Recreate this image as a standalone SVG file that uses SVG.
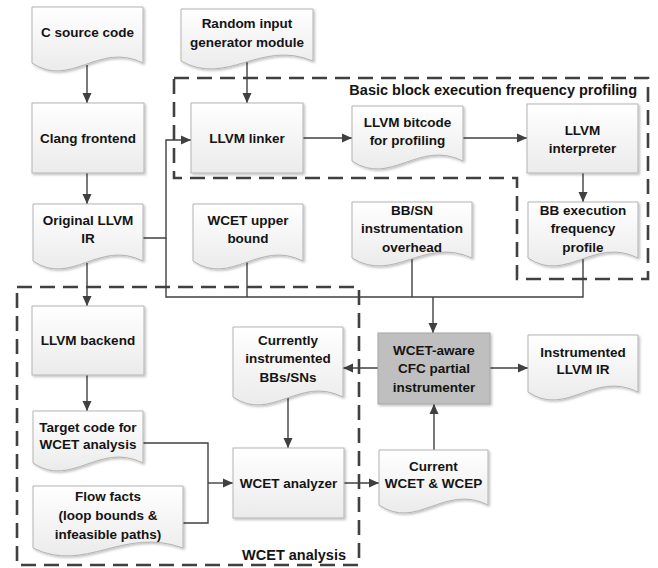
<svg xmlns="http://www.w3.org/2000/svg" width="658" height="568" viewBox="0 0 658 568">
<defs>
<linearGradient id="g" x1="0" y1="0" x2="0" y2="1">
<stop offset="0" stop-color="#ffffff"/>
<stop offset="1" stop-color="#ebebeb"/>
</linearGradient>
<filter id="sh" x="-10%" y="-10%" width="130%" height="130%">
<feDropShadow dx="1.5" dy="1.5" stdDeviation="1" flood-color="#000" flood-opacity="0.25"/>
</filter>
<marker id="ah" viewBox="0 0 10 10" refX="10" refY="5" markerWidth="10" markerHeight="10" markerUnits="userSpaceOnUse" orient="auto">
<path d="M0,0.5 L10,5 L0,9.5 Z" fill="#404040"/>
</marker>
</defs>
<style>
.n{fill:url(#g);stroke:#b3b3b3;stroke-width:1;filter:url(#sh)}
.dk{fill:#bfbfbf;stroke:#a6a6a6;stroke-width:1;filter:url(#sh)}
.c{fill:none;stroke:#404040;stroke-width:1.4}
.a{marker-end:url(#ah)}
.d{fill:none;stroke:#404040;stroke-width:2.6;stroke-dasharray:15 8}
text{font-family:"Liberation Sans",Arial,sans-serif;font-weight:bold;font-size:13.5px;fill:#141414;text-anchor:middle}
.r{text-anchor:end;font-size:14.5px}
</style>
<g id="groups">
<path class="d" d="M174,78 H648 V279 H517 V178 H174 Z"/>
<text class="r" x="637" y="95">Basic block execution frequency profiling</text>
<rect class="d" x="17" y="287" width="342" height="278"/>
<text class="r" x="346" y="560">WCET analysis</text>
</g>
<g id="connectors">
<path class="c a" d="M87,65 V103"/>
<path class="c a" d="M87,173 V204"/>
<path class="c a" d="M87,263 V306"/>
<path class="c a" d="M87,375 V411"/>
<path class="c a" d="M247,62 V103"/>
<path class="c a" d="M143,238 H166 V140 H191"/>
<path class="c" d="M166,238 V297 H583 V259"/>
<path class="c" d="M247,262 V297"/>
<path class="c" d="M412,259 V297"/>
<path class="c a" d="M433,297 V333"/>
<path class="c a" d="M303,138 H352"/>
<path class="c a" d="M463,138 H527"/>
<path class="c a" d="M583,173 V202"/>
<path class="c a" d="M490,368 H528"/>
<path class="c a" d="M378,368 H343"/>
<path class="c a" d="M288,398 V448"/>
<path class="c" d="M143,443 H208 V523 H183"/>
<path class="c a" d="M208,483 H233"/>
<path class="c a" d="M344,483 H379"/>
<path class="c a" d="M434,450 V404"/>
</g>
<g id="c-source">
<path class="n" d="M32,7 H143 V63 C98.6,41 70.85,89 32,63 Z"/>
<text x="87.5" y="37">C source code</text>
</g>
<g id="random-input">
<path class="n" d="M181,9 H313 V61 C260.2,39 227.2,87 181,61 Z"/>
<text x="247" y="28">Random input</text>
<text x="247" y="47">generator module</text>
</g>
<g id="clang">
<rect class="n" x="32" y="103" width="112" height="70"/>
<text x="88" y="142.5">Clang frontend</text>
</g>
<g id="linker">
<rect class="n" x="191" y="103" width="112" height="70"/>
<text x="247" y="142.5">LLVM linker</text>
</g>
<g id="bitcode">
<path class="n" d="M352,106 H463 V161 C418.6,139 390.85,187 352,161 Z"/>
<text x="407.5" y="126.5">LLVM bitcode</text>
<text x="407.5" y="144.5">for profiling</text>
</g>
<g id="interpreter">
<rect class="n" x="527" y="104" width="111" height="69"/>
<text x="582.5" y="134.5">LLVM</text>
<text x="582.5" y="152.5">interpreter</text>
</g>
<g id="bb-profile">
<path class="n" d="M528,202 H638 V258 C594,236 566.5,284 528,258 Z"/>
<text x="583" y="214.5">BB execution</text>
<text x="583" y="232.5">frequency</text>
<text x="583" y="251.5">profile</text>
</g>
<g id="bbsn-overhead">
<path class="n" d="M352,202 H472 V258 C424,236 394,284 352,258 Z"/>
<text x="412" y="214.5">BB/SN</text>
<text x="412" y="232.5">instrumentation</text>
<text x="412" y="251.5">overhead</text>
</g>
<g id="original-ir">
<path class="n" d="M33,204 H143 V261 C99,239 71.5,287 33,261 Z"/>
<text x="88" y="224.5">Original LLVM</text>
<text x="88" y="242.5">IR</text>
</g>
<g id="wcet-upper">
<path class="n" d="M193,204 H303 V261 C259,239 231.5,287 193,261 Z"/>
<text x="248" y="224.5">WCET upper</text>
<text x="248" y="242.5">bound</text>
</g>
<g id="backend">
<rect class="n" x="32" y="306" width="112" height="69"/>
<text x="88" y="344.5">LLVM backend</text>
</g>
<g id="currently">
<path class="n" d="M233,327 H343 V397 C299,375 271.5,423 233,397 Z"/>
<text x="288" y="344.5">Currently</text>
<text x="288" y="362.5">instrumented</text>
<text x="288" y="381.5">BBs/SNs</text>
</g>
<g id="cfc">
<rect class="dk" x="378" y="333" width="112" height="71"/>
<text x="434" y="354.5">WCET-aware</text>
<text x="434" y="372.5">CFC partial</text>
<text x="434" y="391.5">instrumenter</text>
</g>
<g id="instrumented-ir">
<path class="n" d="M528,335 H638 V392 C594,370 566.5,418 528,392 Z"/>
<text x="583" y="356.5">Instrumented</text>
<text x="583" y="373.5">LLVM IR</text>
</g>
<g id="target-code">
<path class="n" d="M33,411 H143 V463 C99,441 71.5,489 33,463 Z"/>
<text x="88" y="431.5">Target code for</text>
<text x="88" y="448.5">WCET analysis</text>
</g>
<g id="flow-facts">
<path class="n" d="M33,486 H183 V548 C123,526 85.5,574 33,548 Z"/>
<text x="108" y="500.5">Flow facts</text>
<text x="108" y="519.5">(loop bounds &amp;</text>
<text x="108" y="538.5">infeasible paths)</text>
</g>
<g id="analyzer">
<rect class="n" x="233" y="448" width="111" height="70"/>
<text x="288.5" y="487.5">WCET analyzer</text>
</g>
<g id="current-wcet">
<path class="n" d="M379,450 H488 V505 C444.4,483 417.15,531 379,505 Z"/>
<text x="433.5" y="470.5">Current</text>
<text x="433.5" y="487.5">WCET &amp; WCEP</text>
</g>
</svg>
